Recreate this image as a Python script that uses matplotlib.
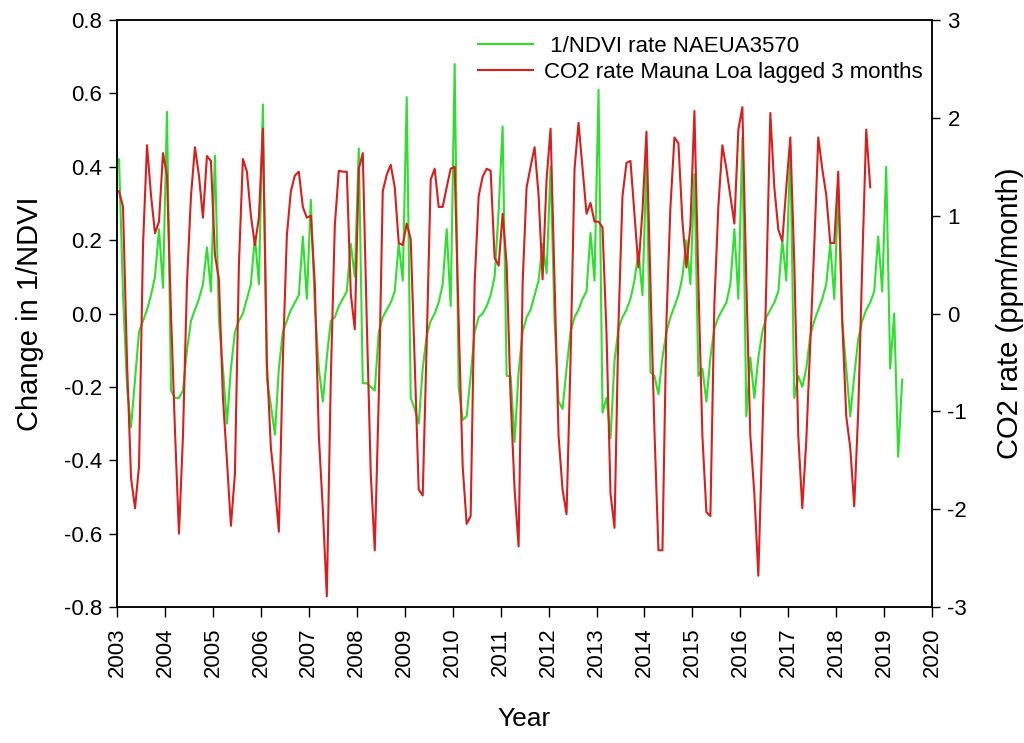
import numpy as np
import matplotlib
matplotlib.use("Agg")
import matplotlib.pyplot as plt

plt.rcParams["font.family"] = ["Liberation Sans", "DejaVu Sans"]
plt.rcParams["axes.unicode_minus"] = False

GREEN, RED = "#2EE02E", "#D81E1E"

START_YEAR = 2003

# monthly change in 1/NDVI, Jan 2003 .. May 2019 (one row per year)
ndvi_rate = [
    0.42, 0.05, -0.20, -0.31, -0.18, -0.05, -0.02, 0.01, 0.05, 0.10, 0.23, 0.07,
    0.55, -0.21, -0.23, -0.23, -0.21, -0.10, -0.02, 0.01, 0.04, 0.08, 0.18, 0.06,
    0.43, -0.02, -0.15, -0.30, -0.15, -0.05, -0.02, 0.00, 0.04, 0.08, 0.21, 0.08,
    0.57, -0.18, -0.25, -0.33, -0.15, -0.05, -0.02, 0.01, 0.03, 0.05, 0.21, 0.04,
    0.31, 0.02, -0.15, -0.24, -0.12, -0.02, -0.01, 0.02, 0.04, 0.06, 0.19, 0.10,
    0.45, -0.19, -0.19, -0.20, -0.21, -0.05, -0.01, 0.01, 0.03, 0.06, 0.19, 0.09,
    0.59, -0.23, -0.26, -0.30, -0.15, -0.06, -0.02, 0.00, 0.03, 0.08, 0.23, 0.02,
    0.68, -0.20, -0.29, -0.28, -0.17, -0.05, -0.01, 0.00, 0.02, 0.05, 0.10, 0.28,
    0.51, -0.17, -0.17, -0.35, -0.16, -0.05, -0.01, 0.01, 0.05, 0.09, 0.19, 0.11,
    0.40, -0.02, -0.24, -0.26, -0.15, -0.05, -0.01, 0.01, 0.04, 0.06, 0.22, 0.09,
    0.61, -0.27, -0.23, -0.34, -0.13, -0.04, -0.01, 0.01, 0.04, 0.09, 0.17, 0.05,
    0.42, -0.16, -0.17, -0.22, -0.12, -0.05, -0.01, 0.02, 0.05, 0.10, 0.20, 0.08,
    0.38, -0.17, -0.15, -0.24, -0.12, -0.04, -0.01, 0.01, 0.03, 0.08, 0.23, 0.04,
    0.48, -0.28, -0.12, -0.23, -0.12, -0.05, -0.01, 0.01, 0.03, 0.06, 0.20, 0.09,
    0.46, -0.23, -0.17, -0.20, -0.15, -0.06, -0.02, 0.01, 0.04, 0.08, 0.19, 0.04,
    0.34, -0.02, -0.15, -0.28, -0.17, -0.07, -0.02, 0.01, 0.03, 0.06, 0.21, 0.06,
    0.40, -0.15, 0.00, -0.39, -0.18,
]

# monthly CO2 rate at Mauna Loa (lagged 3 months), Jan 2003 .. Sep 2018
co2_rate = [
    1.25, 1.09, -0.50, -1.68, -1.99, -1.56, 0.70, 1.72, 1.21, 0.82, 0.94, 1.64,
    1.41, 0.00, -1.20, -2.25, -1.25, 0.31, 1.20, 1.70, 1.41, 0.98, 1.61, 1.56,
    0.60, 0.35, -0.86, -1.50, -2.17, -1.64, 0.50, 1.58, 1.45, 1.00, 0.70, 0.98,
    1.89, -0.50, -1.37, -1.76, -2.23, -0.47, 0.80, 1.25, 1.41, 1.45, 1.09, 0.98,
    1.00, 0.30, -1.25, -2.00, -2.89, -0.66, 0.90, 1.46, 1.45, 1.45, 0.20, -0.16,
    1.48, 1.64, -0.08, -1.64, -2.42, -0.86, 1.25, 1.42, 1.52, 1.29, 0.72, 0.70,
    0.92, 0.76, -0.50, -1.80, -1.86, -0.30, 1.37, 1.48, 1.09, 1.09, 1.29, 1.48,
    1.50, -0.08, -1.56, -2.15, -2.07, 0.31, 1.20, 1.40, 1.48, 1.46, 0.57, 0.49,
    1.02, 0.51, -0.86, -1.80, -2.38, 0.30, 1.29, 1.50, 1.70, 1.21, 0.35, 1.37,
    1.89, 0.31, -1.25, -1.80, -2.05, -0.47, 1.48, 1.95, 1.48, 1.02, 1.13, 0.94,
    0.94, 0.88, -0.20, -1.84, -2.19, -0.10, 1.20, 1.54, 1.56, 1.02, 0.47, 1.05,
    1.86, 0.30, -1.20, -2.42, -2.42, -0.08, 1.09, 1.80, 1.74, 0.94, 0.47, 0.90,
    2.07, 0.31, -1.25, -2.03, -2.07, 0.10, 1.10, 1.72, 1.48, 1.20, 0.92, 1.88,
    2.11, 0.31, -1.25, -1.84, -2.68, -1.25, 0.31, 2.05, 1.29, 0.86, 0.74, 1.29,
    1.80, 0.51, -1.25, -1.99, -1.30, -0.30, 0.70, 1.80, 1.48, 1.21, 0.72, 0.72,
    1.45, -0.08, -1.05, -1.37, -1.97, -1.00, 0.50, 1.88, 1.29,
]

year_ticks = list(range(2003, 2021))
left_ticks = [-0.8, -0.6, -0.4, -0.2, 0.0, 0.2, 0.4, 0.6, 0.8]
right_ticks = [-3, -2, -1, 0, 1, 2, 3]

# mid-month decimal years
t_ndvi = START_YEAR + (np.arange(len(ndvi_rate)) + 0.5) / 12
t_co2 = START_YEAR + (np.arange(len(co2_rate)) + 0.5) / 12

fig = plt.figure(figsize=(10.24, 7.43), dpi=100)
ax = fig.add_axes([0.1143, 0.183, 0.796, 0.790])
ax2 = ax.twinx()

l1, = ax.plot(t_ndvi, ndvi_rate, color=GREEN, lw=1.5)
l2, = ax2.plot(t_co2, co2_rate, color=RED, lw=1.5)

ax.set_xlim(2003, 2020)
ax.set_ylim(-0.8, 0.8)
ax2.set_ylim(-3, 3)

ax.set_xticks(year_ticks)
ax.set_xticklabels([str(y) for y in year_ticks], rotation=90)
ax.set_yticks(left_ticks)
ax.set_yticklabels([f"{v:.1f}" for v in left_ticks])
ax2.set_yticks(right_ticks)
ax2.set_yticklabels([str(v) for v in right_ticks])

ax.tick_params(axis="x", direction="out", length=7, width=1, labelsize=16, pad=8)
ax.tick_params(axis="y", direction="out", length=6, width=1, labelsize=16, pad=5)
ax2.tick_params(axis="y", direction="out", length=6, width=1, labelsize=16, pad=5)
for a in (ax, ax2):
    for s in a.spines.values():
        s.set_linewidth(1.1)

ax.set_ylabel("Change in 1/NDVI", fontsize=21)
ax.yaxis.set_label_coords(-0.09, 0.5)
ax2.set_ylabel("CO2 rate (ppm/month)", fontsize=21)
ax2.yaxis.set_label_coords(1.078, 0.5)
ax.set_xlabel("Year", fontsize=19)
ax.xaxis.set_label_coords(0.5, -0.17)

ax2.legend([l1, l2], [" 1/NDVI rate NAEUA3570", "CO2 rate Mauna Loa lagged 3 months"],
           loc="upper left", bbox_to_anchor=(0.467, 0.952), bbox_transform=fig.transFigure,
           frameon=False, fontsize=16, handlelength=2.45, handletextpad=0.5,
           labelspacing=0.25, borderpad=0, borderaxespad=0)

fig.savefig("out.png", dpi=100, facecolor="white")
